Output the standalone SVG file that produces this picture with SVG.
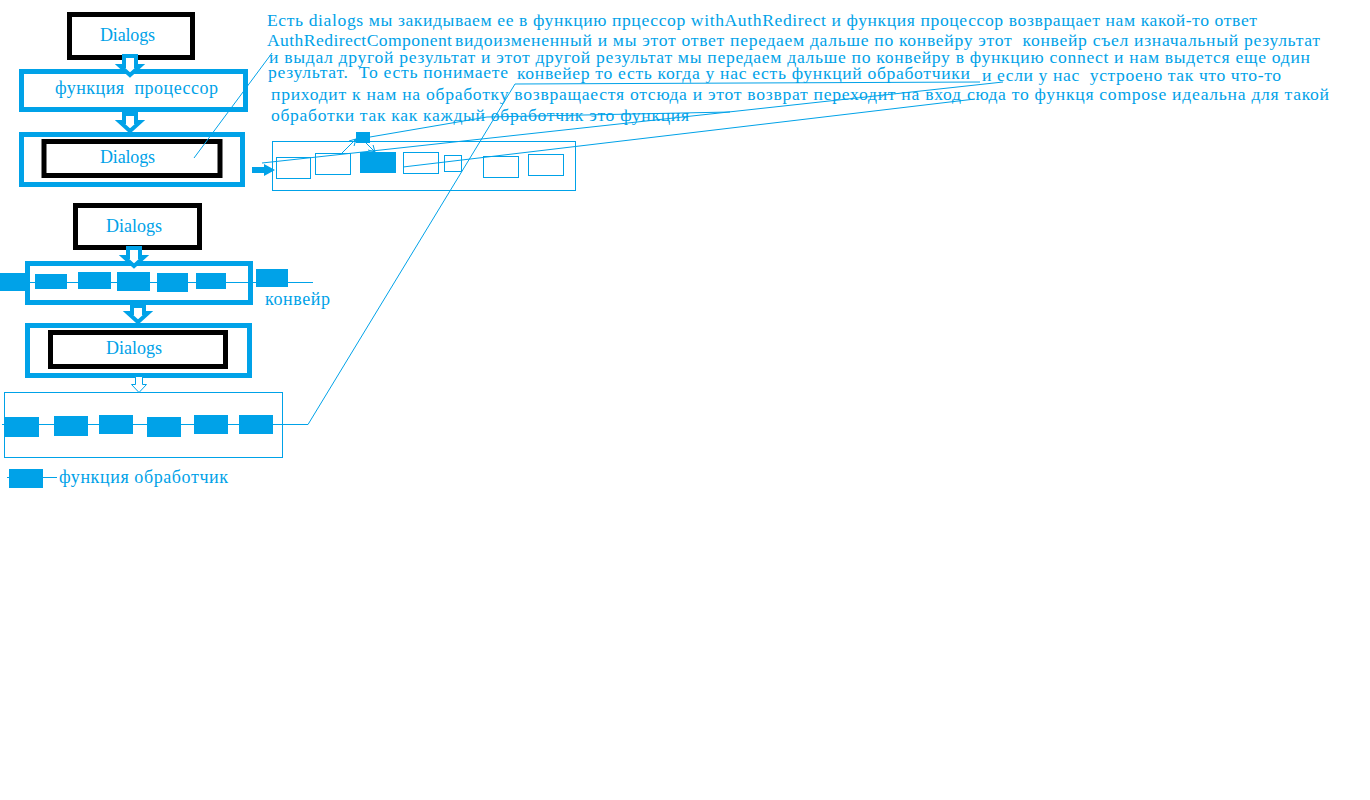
<svg xmlns="http://www.w3.org/2000/svg" width="1370" height="800" viewBox="0 0 1370 800">
<defs>
<style>
.t{font-family:"Liberation Serif","Times New Roman",serif;font-size:18px;fill:#00a2e8;white-space:pre}
.n{font-size:17.6px}
.bk{fill:#fff;stroke:#000;stroke-width:5}
.bl{fill:#fff;stroke:#00a2e8;stroke-width:5}
.thin{fill:none;stroke:#00a2e8;stroke-width:1}
.f{fill:#00a2e8}
.ln{fill:none;stroke:#00a2e8;stroke-width:1}
.arr{fill:#fff;stroke:#00a2e8;stroke-width:4;stroke-linejoin:miter}
.harr{fill:#fff;stroke:#00a2e8;stroke-width:1}
</style>
<marker id="ah" viewBox="0 0 8 8" refX="7" refY="4" markerWidth="8" markerHeight="8" markerUnits="userSpaceOnUse" orient="auto">
<path d="M0,0 L7,4 L0,8" fill="none" stroke="#00a2e8" stroke-width="1"/>
</marker>
</defs>
<rect width="1370" height="800" fill="#fff"/>

<g id="notes">
<text class="t n" x="267" y="26" textLength="990">Есть dialogs мы закидываем ее в функцию прцессор withAuthRedirect и функция процессор возвращает нам какой-то ответ</text>
<text class="t n" x="267" y="46" textLength="185">AuthRedirectComponent</text>
<text class="t n" x="455" y="46" textLength="865">видоизмененный и мы этот ответ передаем дальше по конвейру этот  конвейр съел изначальный результат</text>
<text class="t n" x="269" y="63" textLength="1041">и выдал другой результат и этот другой результат мы передаем дальше по конвейру в функцию connect и нам выдется еще один</text>
<text class="t n" x="268" y="78" textLength="240">результат.  То есть понимаете</text>
<text class="t n" x="517" y="79" textLength="453">конвейер то есть когда у нас есть функций обработчики</text>
<text class="t n" x="982" y="81" textLength="299">и если у нас  устроено так что что-то</text>
<text class="t n" x="271" y="100" textLength="1058">приходит к нам на обработку возвращаестя отсюда и этот возврат переходит на вход сюда то функця compose идеальна для такой</text>
<text class="t n" x="271" y="121" textLength="418">обработки так как каждый обработчик это функция</text>
</g>

<g id="dialogs1">
<rect class="bk" x="69.5" y="14.5" width="123" height="43"/>
<text class="t" x="100" y="41" textLength="55">Dialogs</text>
</g>

<g id="processor">
<rect class="bl" x="21.5" y="71.5" width="224" height="38"/>
<text class="t" x="55" y="94" textLength="163">функция  процессор</text>
</g>

<g id="dialogs2">
<rect class="bl" x="21.5" y="134.5" width="221" height="50"/>
<rect class="bk" x="44" y="141.5" width="176" height="34"/>
<text class="t" x="100" y="163" textLength="55">Dialogs</text>
</g>

<g id="conveyor-top">
<rect class="thin" x="272.5" y="141.5" width="303" height="49"/>
<rect class="thin" x="276.5" y="157.5" width="34" height="21"/>
<rect class="thin" x="315.5" y="153.5" width="35" height="21"/>
<rect class="f" x="360" y="152" width="36" height="21"/>
<rect class="thin" x="403.5" y="152.5" width="35" height="21"/>
<rect class="thin" x="444.5" y="155.5" width="17" height="16"/>
<rect class="thin" x="483.5" y="156.5" width="35" height="21"/>
<rect class="thin" x="528.5" y="154.5" width="35" height="21"/>
<rect class="f" x="356" y="132" width="14" height="11"/>
</g>

<g id="dialogs3">
<rect class="bk" x="75.5" y="205.5" width="124" height="42"/>
<text class="t" x="106" y="232" textLength="56">Dialogs</text>
</g>

<g id="conveyor">
<rect class="bl" x="27.5" y="263.5" width="223" height="39"/>
<line class="ln" x1="0" y1="282.5" x2="313" y2="282.5"/>
<rect class="f" x="0" y="273" width="26" height="18"/>
<rect class="f" x="35" y="274" width="32" height="15"/>
<rect class="f" x="78" y="272" width="33" height="17"/>
<rect class="f" x="117" y="272" width="33" height="19"/>
<rect class="f" x="157" y="273" width="31" height="19"/>
<rect class="f" x="196" y="273" width="30" height="16"/>
<rect class="f" x="256" y="269" width="32" height="18"/>
<text class="t" x="265" y="305" textLength="65">конвейр</text>
</g>

<g id="dialogs4">
<rect class="bl" x="27.5" y="325.5" width="222" height="50"/>
<rect class="bk" x="50.5" y="332.5" width="175" height="34"/>
<text class="t" x="106" y="354" textLength="56">Dialogs</text>
</g>

<g id="conveyor-bottom">
<rect class="thin" x="4.5" y="392.5" width="278" height="65"/>
<rect class="f" x="4" y="417" width="35" height="20"/>
<rect class="f" x="54" y="416" width="34" height="20"/>
<rect class="f" x="99" y="415" width="34" height="19"/>
<rect class="f" x="147" y="417" width="34" height="20"/>
<rect class="f" x="194" y="415" width="34" height="19"/>
<rect class="f" x="239" y="415" width="34" height="19"/>
</g>

<g id="legend">
<line class="ln" x1="7" y1="477.5" x2="57" y2="477.5"/>
<rect class="f" x="9" y="469" width="34" height="19"/>
<text class="t" x="59" y="483" textLength="169">функция обработчик</text>
</g>

<g id="connectors">
<polygon class="arr" points="124,56 136,56 136,66 140,66 130,75 120,66 124,66"/>
<polygon class="arr" points="124,114 136,114 136,122 140,122 130,131 120,122 124,122"/>
<polygon class="arr" points="128,248 140,248 140,257 144,257 134,266 124,257 128,257"/>
<polygon class="arr" points="132,306 144,306 144,313 148,313 138,322 128,313 132,313"/>
<polygon class="harr" points="135.5,376.5 142.5,376.5 142.5,384.5 146.5,384.5 139,392.5 131.5,384.5 135.5,384.5"/>
<polygon class="f" points="252,167 264,167 264,164 275,170 264,176 264,173 252,173"/>
<line class="ln" x1="194" y1="158" x2="272" y2="53"/>
<polyline class="ln" points="2,424.5 308,424.5 515,84 980,82"/>
<line class="ln" x1="262" y1="163" x2="1003" y2="82"/>
<line class="ln" x1="403" y1="167" x2="975" y2="99"/>
<polyline class="ln" points="370,137 487,117 730,112"/>
<line class="ln" x1="342" y1="153" x2="356" y2="139" marker-end="url(#ah)"/>
<line class="ln" x1="366" y1="143" x2="375" y2="152" marker-end="url(#ah)"/>
</g>
</svg>
